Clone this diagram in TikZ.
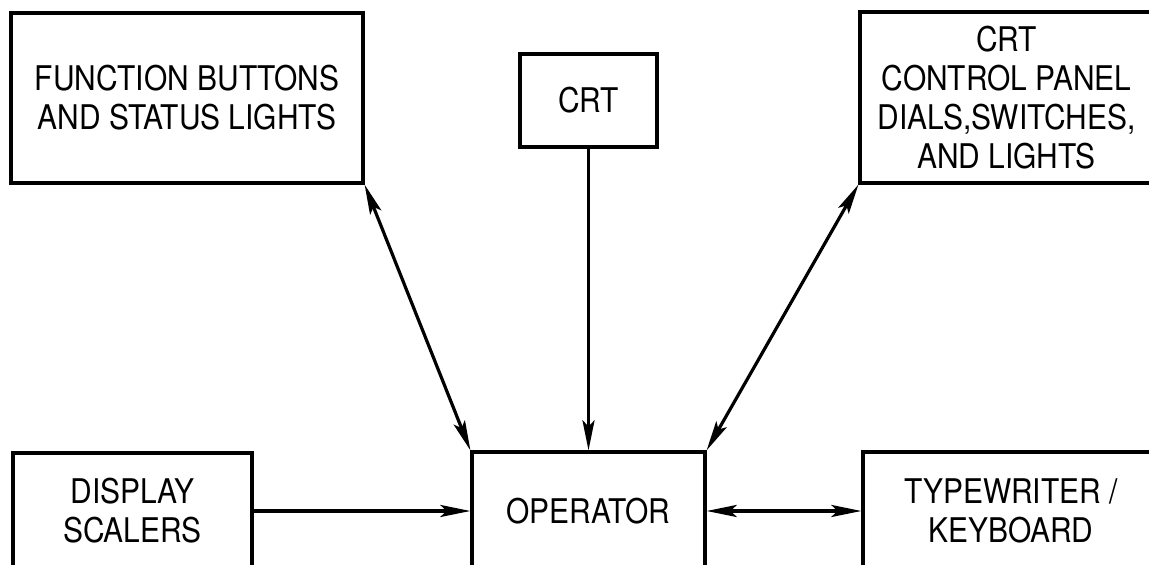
\documentclass[tikz,border=0pt]{standalone}
\usepackage{fontspec}
\setmainfont{TeX Gyre Heros}[FakeStretch=0.88]
\usetikzlibrary{arrows.meta}

\begin{document}
\begin{tikzpicture}[
    x=1pt, y=1pt,
    >={Stealth[length=15pt, width=6pt, inset=3pt]},
    every node/.style={font=\fontsize{17}{19.5}\selectfont},
    box/.style={draw, line width=1.6pt, align=center, inner sep=2pt},
    arr/.style={->, line width=1.6pt},
    both/.style={<->, line width=1.6pt}
  ]
  \useasboundingbox (0,0) rectangle (574.5,282.5);

  % top row
  \node[box, minimum width=176pt, minimum height=85pt] (buttons) at (93.5,233.5)
    {FUNCTION BUTTONS\\AND STATUS LIGHTS};
  \node[box, minimum width=68.5pt, minimum height=46.5pt] (crt) at (294.25,232.25) {CRT};
  \node[box, minimum width=146.5pt, minimum height=85.5pt] (panel) at (503.25,233.75)
    {CRT\\CONTROL PANEL\\DIALS,SWITCHES,\\AND LIGHTS};

  % bottom row
  \node[box, minimum width=119.5pt, minimum height=58pt] (scalers) at (66.25,27)
    {DISPLAY\\SCALERS};
  \node[box, minimum width=116.5pt, minimum height=59pt] (op) at (294.25,27) {OPERATOR};
  \node[box, minimum width=148pt, minimum height=59pt] (typer) at (505.5,27)
    {TYPEWRITER /\\KEYBOARD};

  % links to the operator
  \draw[both] (buttons.south east) -- (op.north west);
  \draw[arr] (crt) -- (op);
  \draw[both] (panel.south west) -- (op.north east);
  \draw[arr] (scalers) -- (op);
  \draw[both] (op) -- (typer);
\end{tikzpicture}
\end{document}
